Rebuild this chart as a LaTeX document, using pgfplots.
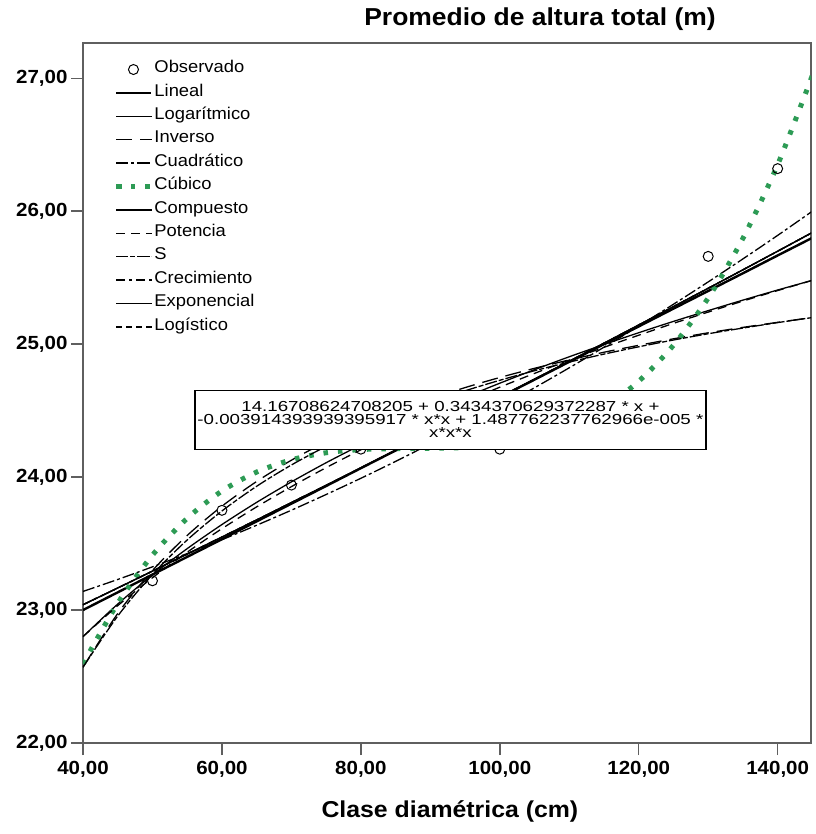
\documentclass[border=0pt]{standalone}
\usepackage{fontspec}
\setmainfont{Liberation Sans}[FakeStretch=1.08]
\newfontfamily\eqfont{Liberation Sans}[FakeStretch=1.29]
\usepackage{pgfplots}
\usepackage{pgfplotstable}
\pgfplotsset{compat=1.18}
\definecolor{cubgreen}{RGB}{45,155,85}
\definecolor{axgray}{RGB}{95,95,95}

\pgfplotstableread{
x   lin    logr   inv    quad   cub    expo   pow    s
40  23.000 22.800 22.570 23.140 22.594 23.040 22.800 22.570
45  23.133 23.045 22.974 23.230 23.051 23.166 23.033 22.955
50  23.267 23.264 23.297 23.325 23.413 23.293 23.243 23.268
55  23.400 23.462 23.561 23.425 23.690 23.421 23.435 23.527
60  23.533 23.643 23.781 23.529 23.895 23.549 23.612 23.745
65  23.667 23.810 23.967 23.638 24.038 23.678 23.776 23.931
70  23.800 23.964 24.127 23.751 24.130 23.808 23.928 24.091
75  23.933 24.108 24.265 23.869 24.183 23.938 24.071 24.231
80  24.067 24.242 24.386 23.991 24.207 24.069 24.205 24.355
85  24.200 24.368 24.493 24.118 24.214 24.201 24.332 24.464
90  24.333 24.487 24.588 24.250 24.216 24.334 24.453 24.561
95  24.467 24.600 24.673 24.386 24.222 24.467 24.567 24.649
100 24.600 24.706 24.749 24.527 24.244 24.601 24.676 24.728
105 24.733 24.808 24.818 24.672 24.295 24.736 24.780 24.800
110 24.867 24.905 24.881 24.822 24.383 24.871 24.880 24.865
115 25.000 24.997 24.939 24.977 24.522 25.007 24.976 24.925
120 25.133 25.086 24.991 25.136 24.721 25.144 25.067 24.980
125 25.267 25.171 25.040 25.300 24.992 25.282 25.156 25.031
130 25.400 25.252 25.085 25.468 25.347 25.420 25.241 25.078
135 25.533 25.331 25.126 25.641 25.796 25.559 25.324 25.121
140 25.667 25.407 25.164 25.818 26.350 25.699 25.403 25.162
145 25.800 25.480 25.200 26.000 27.022 25.840 25.480 25.200
}\curves

\pgfplotstableread{
x   y
50  23.22
60  23.75
70  23.94
80  24.21
100 24.21
120 24.27
130 25.66
140 26.32
}\obs

\begin{document}
\begin{tikzpicture}[x=1pt,y=1pt]
\path[use as bounding box] (-83,-91) rectangle (732,743);
\begin{axis}[
  at={(0,0)}, anchor=south west,
  scale only axis, width=728pt, height=700pt,
  xmin=40, xmax=144.8, ymin=22, ymax=27.265,
  axis line style={axgray, line width=1.6pt},
  tick style={axgray, line width=1.4pt},
  tick align=outside, major tick length=12pt,
  tick pos=left,
  xtick={40,60,...,140}, ytick={22,23,...,27},
  minor tick num=0,
  xticklabel style={yshift=-3pt, font=\bfseries\fontsize{19}{19}\selectfont, /pgf/number format/.cd, fixed, fixed zerofill, precision=2, use comma, assume math mode=true},
  yticklabel style={font=\bfseries\fontsize{19}{19}\selectfont, /pgf/number format/.cd, fixed, fixed zerofill, precision=2, use comma, assume math mode=true},
  xlabel={Clase diamétrica (cm)},
  xlabel style={font=\bfseries\fontsize{23}{23}\selectfont, at={(axis description cs:0.504,0)}, anchor=center, yshift=-68pt},
  legend image code/.code={\draw[mark repeat=2,mark phase=2,#1] plot coordinates {(0pt,0pt)(17pt,0pt)(35pt,0pt)};},
  legend style={at={(axis cs:44.0,27.17)}, anchor=north west, draw=none, fill=none,
    font=\fontsize{17}{17}\selectfont, row sep=0pt,
    nodes={inner sep=0.5pt, text height=14.3pt, text depth=8.1pt}},
  legend cell align=left,
  clip=true,
]
\addplot[only marks, mark=o, mark size=5pt, black, mark options={line width=1pt}] table[x=x,y=y] {\obs};
\addlegendentry{Observado}
\addplot[black, line width=2.4pt] table[x=x,y=lin] {\curves};
\addlegendentry{Lineal}
\addplot[black, line width=1.3pt, smooth] table[x=x,y=logr] {\curves};
\addlegendentry{Logarítmico}
\addplot[black, line width=1.3pt, smooth, dash pattern=on 16pt off 8pt] table[x=x,y=inv] {\curves};
\addlegendentry{Inverso}
\addplot[black, line width=1.3pt, smooth, dash pattern=on 12pt off 3pt on 3pt off 3pt] table[x=x,y=quad] {\curves};
\addlegendentry{Cuadrático}
\addplot[cubgreen, line width=5pt, smooth, dash pattern=on 4.5pt off 10pt] table[x=x,y=cub] {\curves};
\addlegendentry{Cúbico}
\addplot[black, line width=1.3pt, smooth] table[x=x,y=expo] {\curves};
\addlegendentry{Compuesto}
\addplot[black, line width=1.3pt, smooth, dash pattern=on 9pt off 6pt] table[x=x,y=pow] {\curves};
\addlegendentry{Potencia}
\addplot[black, line width=1.3pt, smooth, dash pattern=on 12pt off 2pt on 5pt off 2pt] table[x=x,y=s] {\curves};
\addlegendentry{S}
\addplot[black, line width=1.3pt, smooth, dash pattern=on 9pt off 4pt on 3pt off 4pt] table[x=x,y=expo] {\curves};
\addlegendentry{Crecimiento}
\addplot[black, line width=1.3pt, smooth] table[x=x,y=expo] {\curves};
\addlegendentry{Exponencial}
\addplot[black, line width=1.3pt, smooth, dash pattern=on 5pt off 5pt] table[x=x,y=expo] {\curves};
\addlegendentry{Logístico}
\coordinate (eqc) at (axis cs:92.9,24.43);
\end{axis}
\node[draw=black, line width=1.2pt, fill=white, minimum width=511pt, minimum height=59pt, inner xsep=0pt, inner ysep=2pt, align=center, font=\eqfont\fontsize{14.5}{13}\selectfont] at (eqc) {14.16708624708205 + 0.3434370629372287 * x +\\-0.003914393939395917 * x*x + 1.487762237762966e-005 *\\x*x*x};
\node[font=\bfseries\fontsize{24.5}{24.5}\selectfont] at (457,724) {Promedio de altura total (m)};
\end{tikzpicture}
\end{document}
